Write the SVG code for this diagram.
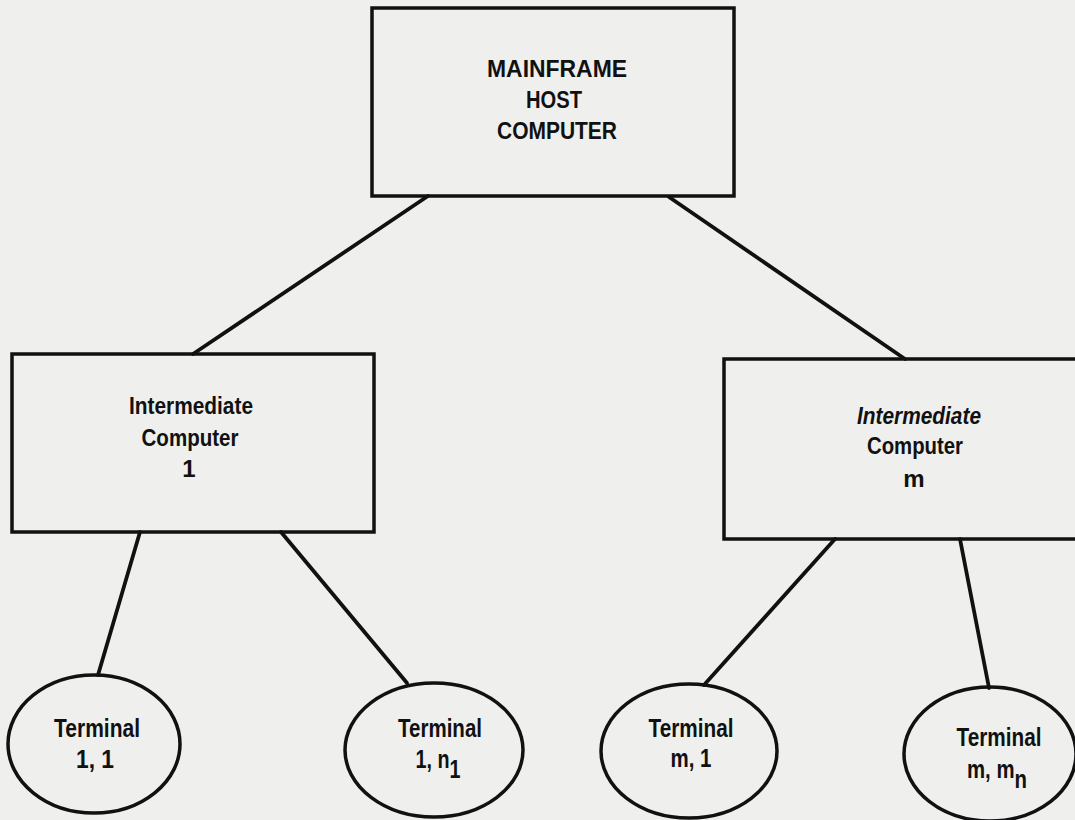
<svg xmlns="http://www.w3.org/2000/svg" width="1075" height="820" viewBox="0 0 1075 820">
<style>
.bg{fill:#efefed}
.box{fill:none;stroke:#111;stroke-width:3.5}
.conn{stroke:#111;stroke-width:3.8;fill:none;stroke-linecap:round}
text{font-family:"Liberation Sans",Arial,sans-serif;font-weight:bold;fill:#111;text-anchor:middle}
.t22{font-size:24px}
.t24{font-size:25px}
</style>
<rect class="bg" x="0" y="0" width="1075" height="820"/>
<g id="connectors">
<line class="conn" x1="428" y1="196" x2="193" y2="354"/>
<line class="conn" x1="669" y1="197" x2="905" y2="359"/>
<line class="conn" x1="140" y1="532" x2="98" y2="675"/>
<line class="conn" x1="281" y1="532" x2="407" y2="683"/>
<line class="conn" x1="835" y1="539" x2="704" y2="685"/>
<line class="conn" x1="960" y1="539" x2="989" y2="688"/>
</g>
<g id="mainframe">
<rect class="box" x="372" y="8" width="362" height="188"/>
<text class="t22" x="557" y="77" textLength="140" lengthAdjust="spacingAndGlyphs">MAINFRAME</text>
<text class="t22" x="554" y="108" textLength="56" lengthAdjust="spacingAndGlyphs">HOST</text>
<text class="t22" x="557" y="139" textLength="120" lengthAdjust="spacingAndGlyphs">COMPUTER</text>
</g>
<g id="intermediate1">
<rect class="box" x="12" y="354" width="362" height="178"/>
<text class="t22" x="191" y="414" textLength="124" lengthAdjust="spacingAndGlyphs">Intermediate</text>
<text class="t22" x="190" y="446" textLength="97" lengthAdjust="spacingAndGlyphs">Computer</text>
<text class="t22" x="189" y="477">1</text>
</g>
<g id="intermediateM">
<rect class="box" x="724" y="359" width="354" height="180"/>
<text class="t22" x="919" y="424" font-style="italic" textLength="124" lengthAdjust="spacingAndGlyphs">Intermediate</text>
<text class="t22" x="915" y="454" textLength="96" lengthAdjust="spacingAndGlyphs">Computer</text>
<text class="t22" x="914" y="487">m</text>
</g>
<g id="terminal11">
<ellipse class="box" cx="94" cy="744" rx="86" ry="69"/>
<text class="t24" x="97" y="737" textLength="86" lengthAdjust="spacingAndGlyphs">Terminal</text>
<text class="t24" x="95" y="768" textLength="38" lengthAdjust="spacingAndGlyphs">1, 1</text>
</g>
<g id="terminal1n">
<ellipse class="box" cx="434" cy="750" rx="89" ry="67"/>
<text class="t24" x="440" y="737" textLength="84" lengthAdjust="spacingAndGlyphs">Terminal</text>
<text class="t24" x="438" y="768" textLength="45" lengthAdjust="spacingAndGlyphs">1, n<tspan dy="10">1</tspan></text>
</g>
<g id="terminalm1">
<ellipse class="box" cx="689" cy="751" rx="88" ry="67"/>
<text class="t24" x="691" y="737" textLength="85" lengthAdjust="spacingAndGlyphs">Terminal</text>
<text class="t24" x="691" y="767" textLength="41" lengthAdjust="spacingAndGlyphs">m, 1</text>
</g>
<g id="terminalmn">
<ellipse class="box" cx="990" cy="754" rx="86" ry="67"/>
<text class="t24" x="999" y="746" textLength="85" lengthAdjust="spacingAndGlyphs">Terminal</text>
<text class="t24" x="997" y="778" textLength="60" lengthAdjust="spacingAndGlyphs">m, m<tspan dy="10">n</tspan></text>
</g>
</svg>
